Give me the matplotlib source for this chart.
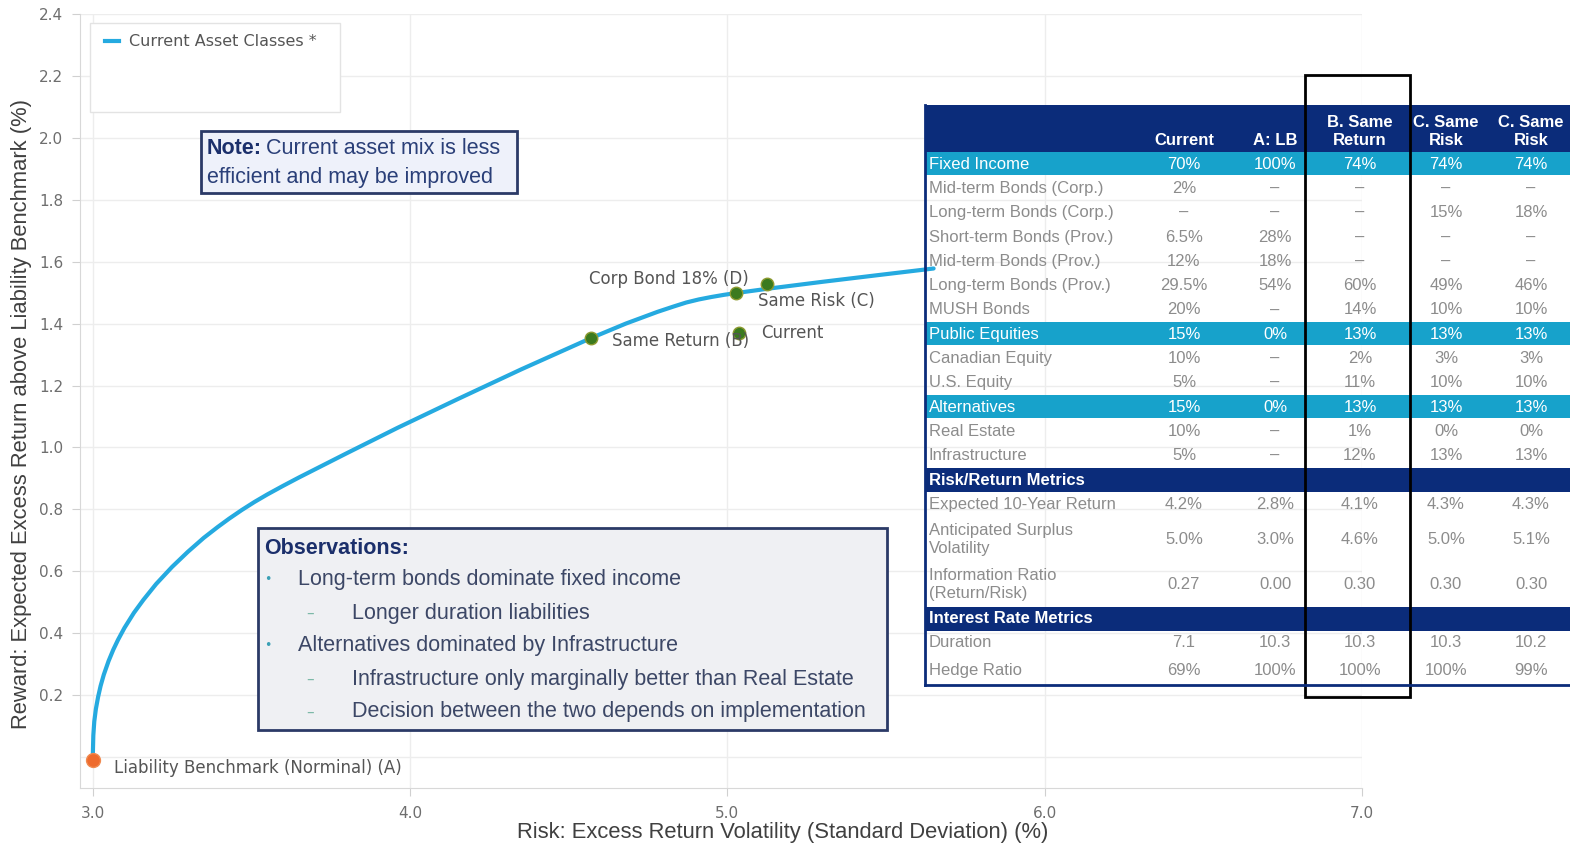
import matplotlib
matplotlib.use('Agg')
import matplotlib.pyplot as plt
from matplotlib.patches import Rectangle

# efficient frontier (risk %, reward %)
risk = [3.0, 3.002, 3.005, 3.01, 3.017, 3.025, 3.035, 3.05, 3.065, 3.08,
        3.10, 3.13, 3.16, 3.20, 3.25, 3.30, 3.35, 3.394, 3.43, 3.47,
        3.51, 3.55, 3.60, 3.65, 3.80, 3.96, 4.15, 4.35, 4.57, 4.68,
        4.78, 4.83, 4.87, 4.91, 4.95, 4.99, 5.03, 5.13, 5.30, 5.47, 5.65]
reward = [-0.01, 0.07, 0.115, 0.155, 0.194, 0.23, 0.266, 0.31, 0.347, 0.379,
          0.417, 0.466, 0.508, 0.559, 0.614, 0.663, 0.708, 0.743, 0.77, 0.798,
          0.824, 0.848, 0.876, 0.903, 0.981, 1.063, 1.156, 1.252, 1.353, 1.40,
          1.438, 1.455, 1.468, 1.478, 1.486, 1.493, 1.499, 1.513, 1.535, 1.556, 1.578]

# asset mixes shown as dots
mix_names = ['Liability Benchmark (Norminal) (A)', 'Same Return (B)', 'Current',
             'Corp Bond 18% (D)', 'Same Risk (C)']
mix_risk = [3.0, 4.569, 5.036, 5.026, 5.124]
mix_reward = [-0.01, 1.353, 1.37, 1.499, 1.528]

x_ticks = [3.0, 4.0, 5.0, 6.0, 7.0]
y_ticks = [0.2, 0.4, 0.6, 0.8, 1.0, 1.2, 1.4, 1.6, 1.8, 2.0, 2.2, 2.4]

# table on the right
col_heads = ['Current', 'A: LB', 'B. Same\nReturn', 'C. Same\nRisk', 'C. Same\nRisk']
row_labels = ['Fixed Income', 'Mid-term Bonds (Corp.)', 'Long-term Bonds (Corp.)',
              'Short-term Bonds (Prov.)', 'Mid-term Bonds (Prov.)',
              'Long-term Bonds (Prov.)', 'MUSH Bonds', 'Public Equities',
              'Canadian Equity', 'U.S. Equity', 'Alternatives', 'Real Estate',
              'Infrastructure', 'Risk/Return Metrics', 'Expected 10-Year Return',
              'Anticipated Surplus\nVolatility', 'Information Ratio\n(Return/Risk)',
              'Interest Rate Metrics', 'Duration', 'Hedge Ratio']
row_kind = ['group', 'item', 'item', 'item', 'item', 'item', 'item', 'group',
            'item', 'item', 'group', 'item', 'item', 'section', 'item', 'item',
            'item', 'section', 'item', 'item']
row_values = [
    ['70%', '100%', '74%', '74%', '74%'],
    ['2%', '–', '–', '–', '–'],
    ['–', '–', '–', '15%', '18%'],
    ['6.5%', '28%', '–', '–', '–'],
    ['12%', '18%', '–', '–', '–'],
    ['29.5%', '54%', '60%', '49%', '46%'],
    ['20%', '–', '14%', '10%', '10%'],
    ['15%', '0%', '13%', '13%', '13%'],
    ['10%', '–', '2%', '3%', '3%'],
    ['5%', '–', '11%', '10%', '10%'],
    ['15%', '0%', '13%', '13%', '13%'],
    ['10%', '–', '1%', '0%', '0%'],
    ['5%', '–', '12%', '13%', '13%'],
    None,
    ['4.2%', '2.8%', '4.1%', '4.3%', '4.3%'],
    ['5.0%', '3.0%', '4.6%', '5.0%', '5.1%'],
    ['0.27', '0.00', '0.30', '0.30', '0.30'],
    None,
    ['7.1', '10.3', '10.3', '10.3', '10.2'],
    ['69%', '100%', '100%', '100%', '99%'],
]

obs_lines = [('Long-term bonds dominate fixed income', 1),
             ('Longer duration liabilities', 2),
             ('Alternatives dominated by Infrastructure', 1),
             ('Infrastructure only marginally better than Real Estate', 2),
             ('Decision between the two depends on implementation', 2)]

W, H = 1570, 847
NAVY = '#0B2C7A'
TEAL = '#17A2CB'
LINE = '#25AAE0'
BOXTXT = '#2A3F78'
GRID = '#EDEDED'

fig = plt.figure(figsize=(W / 100, H / 100), dpi=100)
ax = fig.add_axes([80 / W, 1 - 788 / H, 1282 / W, 774 / H])

ax.plot(risk, reward, color=LINE, lw=3, solid_capstyle='round',
        solid_joinstyle='round', zorder=3)

for i, name in enumerate(mix_names):
    if i == 0:
        ax.plot(mix_risk[i], mix_reward[i], 'o', ms=10, mfc='#EE6B2D', mec='#F08A50', zorder=4)
    else:
        ax.plot(mix_risk[i], mix_reward[i], 'o', ms=9, mfc='#3B7A1E', mec='#8C9A30', zorder=4)

# label offsets in pixels from each dot
offsets = [(21, -8, 'left'), (21, -3, 'left'), (22, 0, 'left'), (13, 14, 'right'), (-9, -17, 'left')]
for i, name in enumerate(mix_names):
    dx, dy, ha = offsets[i]
    ax.annotate(name, (mix_risk[i], mix_reward[i]), xytext=(dx, dy),
                textcoords='offset pixels', ha=ha, va='center',
                fontsize=12, color='#555555', family='DejaVu Sans', zorder=5)

ax.set_xlim(2.96, 7.0)
ax.set_ylim(-0.1, 2.4)
ax.set_xticks(x_ticks)
ax.set_xticklabels([f'{v:.1f}' for v in x_ticks])
ax.set_yticks(y_ticks)
ax.set_yticklabels([f'{v:.1f}' for v in y_ticks])
ax.tick_params(colors='#D0D0D0', labelcolor='#6E6E6E', labelsize=11, length=6)
ax.tick_params(axis='x', pad=7)
ax.tick_params(axis='y', pad=6)
ax.grid(True, color=GRID, lw=1)
ax.axhline(0.0, color=GRID, lw=1, zorder=0)
ax.set_axisbelow(True)
for s in ['top', 'right']:
    ax.spines[s].set_visible(False)
for s in ['left', 'bottom']:
    ax.spines[s].set_color('#D8D8D8')

ax.set_xlabel('Risk: Excess Return Volatility (Standard Deviation) (%)',
              fontsize=15.8, color='#404040', family='Liberation Sans', va='center')
ax.xaxis.set_label_coords(0.548, -0.058)
ax.set_ylabel('Reward: Expected Excess Return above Liability Benchmark (%)',
              fontsize=15.8, color='#404040', family='Liberation Sans', va='center')
ax.yaxis.set_label_coords(-0.046, 0.483)

# overlay in pixel coordinates for boxes and table
ov = fig.add_axes([0, 0, 1, 1])
ov.set_xlim(0, W)
ov.set_ylim(H, 0)
ov.axis('off')
ov.set_zorder(3)

# legend box
ov.add_patch(Rectangle((90, 23), 250, 89, fc='white', ec='#E3E3E3', lw=1))
ov.plot([105, 119], [41, 41], color=LINE, lw=3)
ov.text(129, 41, 'Current Asset Classes *', fontsize=11.5, color='#555555',
        va='center', family='DejaVu Sans')

# note box
ov.add_patch(Rectangle((201, 131), 316, 62, fc='#EEF1FA', ec='#2B3A67', lw=2))
ov.text(207, 149, 'Note:', fontsize=15.5, weight='bold', color='#1B2F6B',
        va='center', family='Liberation Sans')
ov.text(266, 149, 'Current asset mix is less', fontsize=15.5, color=BOXTXT,
        va='center', family='Liberation Sans')
ov.text(207, 177, 'efficient and may be improved', fontsize=15.5, color=BOXTXT,
        va='center', family='Liberation Sans')

# observations box
ov.add_patch(Rectangle((258, 528), 629, 202, fc='#EFF0F3', ec='#2B3A67', lw=2))
ov.text(264, 548, 'Observations:', fontsize=15.5, weight='bold', color='#1B2F6B',
        va='center', family='Liberation Sans')
for k, (txt, lvl) in enumerate(obs_lines):
    y = 580 + k * 33
    if lvl == 1:
        ov.text(268, y, '•', fontsize=9, color='#3AA0B5', va='center', ha='center')
        ov.text(298, y, txt, fontsize=15.5, color='#3C4766', va='center', family='Liberation Sans')
    else:
        ov.text(310, y, '–', fontsize=11, color='#7DB9A8', va='center', ha='center')
        ov.text(352, y, txt, fontsize=15.5, color='#3C4766', va='center', family='Liberation Sans')

# table
tx0, tx1 = 925, W
col_x = [1184, 1275, 1360, 1446, 1531]
ov.add_patch(Rectangle((tx0, 105), tx1 - tx0, 47, fc=NAVY, ec='none'))
for j, head in enumerate(col_heads):
    ov.text(col_x[j], 148, head, fontsize=12, weight='bold', color='white',
            ha='center', va='bottom', family='Liberation Sans', linespacing=1.25)

row_h = 24.3
tall = {15: 45, 16: 45, 19: 30}
y = 152
for r, label in enumerate(row_labels):
    h = tall.get(r, row_h)
    kind = row_kind[r]
    if kind == 'group':
        ov.add_patch(Rectangle((tx0, y), tx1 - tx0, h - 1, fc=TEAL, ec='none'))
        tc, fw = 'white', 'normal'
    elif kind == 'section':
        ov.add_patch(Rectangle((tx0, y), tx1 - tx0, h, fc=NAVY, ec='none'))
        tc, fw = 'white', 'bold'
    else:
        tc, fw = '#8C8C8C', 'normal'
    yc = y + h / 2
    ov.text(929, yc, label, fontsize=12, color=tc, weight=fw, va='center',
            family='Liberation Sans', linespacing=1.25)
    if row_values[r] is not None:
        for j, v in enumerate(row_values[r]):
            ov.text(col_x[j], yc, v, fontsize=12, color=tc, ha='center',
                    va='center', family='Liberation Sans')
    y += h

ov.plot([tx0, tx0], [105, y], color=NAVY, lw=2)
ov.plot([tx0, tx1], [y, y], color=NAVY, lw=2)

# highlight around column B
ov.add_patch(Rectangle((1305, 75), 105, 622, fc='none', ec='black', lw=2))

fig.savefig('out.png', dpi=100)
